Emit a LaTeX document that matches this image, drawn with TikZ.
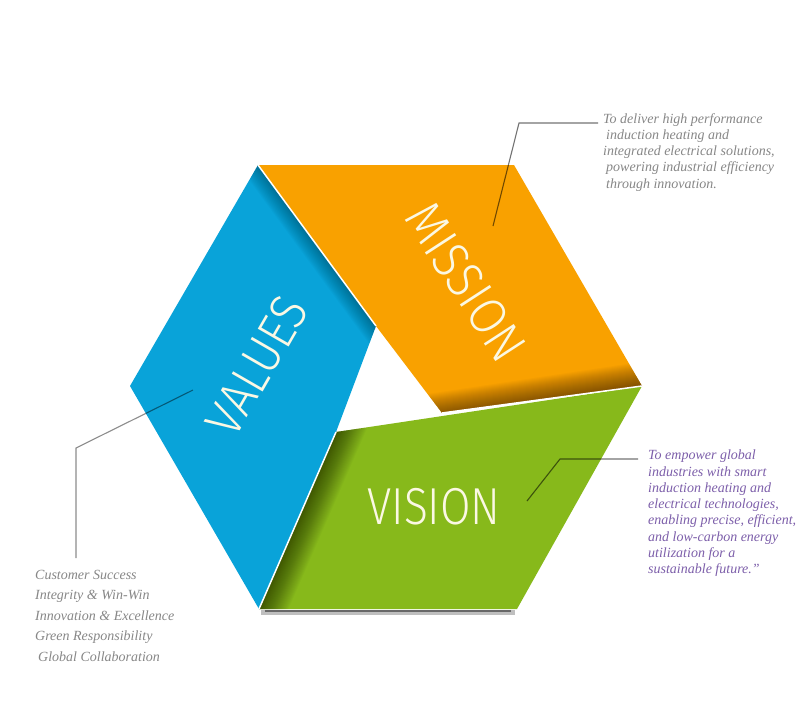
\documentclass[tikz,border=0pt]{standalone}
\usepackage{fontspec}
\setmainfont{Liberation Serif}
\IfFontExistsTF{Fira Sans Light}{\newfontfamily\lblfont{Fira Sans Light}}{\newfontfamily\lblfont{Fira Sans}}
\usetikzlibrary{calc}
\definecolor{vblue}{RGB}{9,163,217}
\definecolor{morange}{RGB}{249,161,0}
\definecolor{vgreen}{RGB}{135,185,27}
\definecolor{lblcol}{RGB}{251,248,228}
\definecolor{graytxt}{RGB}{135,135,135}
\definecolor{purpletxt}{RGB}{125,95,170}
\tikzset{
  biglabel/.style={text=lblcol, font=\lblfont\fontsize{52}{52}\selectfont, inner sep=0pt},
  sidetext/.style={align=left, inner sep=0pt, anchor=north west},
  callout/.style={draw=black, draw opacity=0.55, line width=1.1pt},
  seam/.style={draw=white, line width=1.5pt},
}
\begin{document}
\begin{tikzpicture}[x=1pt,y=-1pt]
\useasboundingbox[fill=white] (0,0) rectangle (800,702);
% hexagon corners and inner triangle corners
\coordinate (H0) at (642,386);
\coordinate (H60) at (514,165);
\coordinate (H120) at (258,165);
\coordinate (H180) at (130,386);
\coordinate (H240) at (259,609);
\coordinate (H300) at (517,609);
\coordinate (T1) at (376,326);
\coordinate (T2) at (336,432);
\coordinate (T3) at (442,413);
% bottom shadow
\draw[line width=5pt, black, opacity=0.25] ($(H240)+(2,3)$) -- ($(H300)+(-2,3)$);
\draw[line width=2.5pt, black, opacity=0.45] ($(H240)+(6,2)$) -- ($(H300)+(-6,2)$);
% panels
\fill[vgreen] (T2) -- (H0) -- (H300) -- (H240) -- cycle;
\fill[morange] (H120) -- (H60) -- (H0) -- (T3) -- (T1) -- cycle;
\fill[vblue] (H120) -- (T1) -- (T2) -- (H240) -- (H180) -- cycle;
% shadow bands (smooth gradients along the shared edges)
\begin{scope}
  \clip (H120) -- (T1) -- (T2) -- (H240) -- (H180) -- cycle;
  \foreach \w in {2,4,...,32}
    \draw[line width=\w pt, black, opacity=0.02] ($(H120)!-0.2!(T1)$) -- ($(T1)!-0.2!(H120)$);
\end{scope}
\begin{scope}
  \clip (H120) -- (H60) -- (H0) -- (T3) -- (T1) -- cycle;
  \foreach \w in {2,4,...,48}
    \draw[line width=\w pt, black, opacity=0.022] ($(T2)!-0.1!(H0)$) -- ($(H0)!-0.1!(T2)$);
\end{scope}
\begin{scope}
  \clip (T2) -- (H0) -- (H300) -- (H240) -- cycle;
  \foreach \w in {2,4,...,54}
    \draw[line width=\w pt, black, opacity=0.022] ($(H240)!-0.2!(T2)$) -- ($(T2)!-0.2!(H240)$);
\end{scope}
% seams
\draw[seam] (H120) -- (T1);
\draw[seam] (T3) -- (H0);
\draw[seam] (H240) -- (T2);
% big labels
\node[biglabel, rotate=-57] (missionlbl) at (466,282) {\scalebox{0.9}[1]{MISSION}};
\node[biglabel, rotate=60] (valueslbl) at (257,366) {\scalebox{0.9}[1]{VALUES}};
\node[biglabel] (visionlbl) at (434,507) {\scalebox{0.85}[1]{VISION}};
% callout text
\node[sidetext, text=graytxt, font=\itshape\fontsize{14}{16.25}\selectfont] (missiontxt) at (603,113)
  {To deliver high performance\\\hspace*{3pt}induction heating and\\integrated electrical solutions,\\\hspace*{3pt}powering industrial efficiency\\\hspace*{3pt}through innovation.};
\node[sidetext, text=purpletxt, font=\itshape\fontsize{14}{16.25}\selectfont] (visiontxt) at (648,450)
  {To empower global\\industries with smart\\induction heating and\\electrical technologies,\\enabling precise, efficient,\\and low-carbon energy\\utilization for a\\sustainable future."};
\node[sidetext, text=graytxt, font=\itshape\fontsize{14}{20.5}\selectfont] (valuestxt) at (35,570)
  {Customer Success\\Integrity \& Win-Win\\Innovation \& Excellence\\Green Responsibility\\\hspace*{3pt}Global Collaboration};
% callout lines
\coordinate (mpt) at (493,226);
\coordinate (mbend) at (519,123);
\coordinate (mend) at (598,123);
\coordinate (vpt) at (527,501);
\coordinate (vbend) at (560,459);
\coordinate (vend) at (638,459);
\coordinate (lpt) at (193,390);
\coordinate (lbend) at (76,448);
\coordinate (lend) at (76,558);
\draw[callout] (mpt) -- (mbend) -- (mend);
\draw[callout] (vpt) -- (vbend) -- (vend);
\draw[callout, draw opacity=0.45] (lpt) -- (lbend) -- (lend);
\end{tikzpicture}
\end{document}
